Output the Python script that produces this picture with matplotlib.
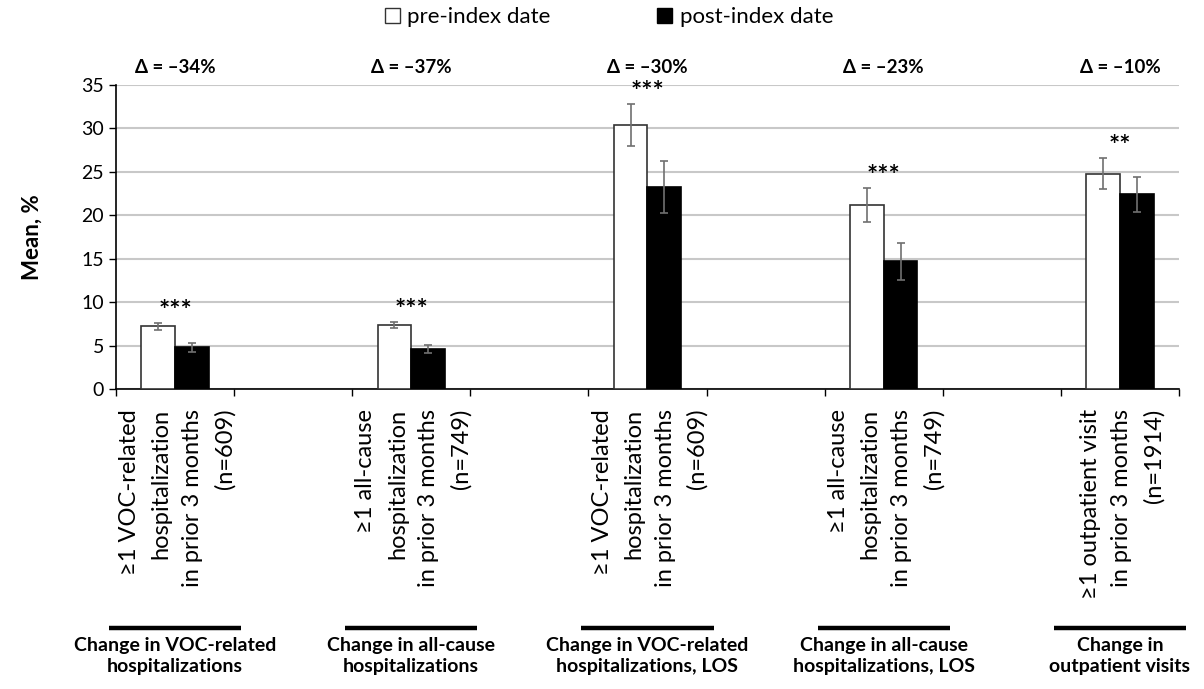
import numpy as np
import matplotlib
matplotlib.use("Agg")
import matplotlib.pyplot as plt
from matplotlib.patches import Patch
import matplotlib.transforms as mtransforms

plt.rcParams["font.family"] = ["Lato", "DejaVu Sans"]

# data
measures = [
    "≥1 VOC-related\nhospitalization\nin prior 3 months\n(n=609)",
    "≥1 all-cause\nhospitalization\nin prior 3 months\n(n=749)",
    "≥1 VOC-related\nhospitalization\nin prior 3 months\n(n=609)",
    "≥1 all-cause\nhospitalization\nin prior 3 months\n(n=749)",
    "≥1 outpatient visit\nin prior 3 months\n(n=1914)",
]
groups = [
    "Change in VOC-related\nhospitalizations",
    "Change in all-cause\nhospitalizations",
    "Change in VOC-related\nhospitalizations, LOS",
    "Change in all-cause\nhospitalizations, LOS",
    "Change in\noutpatient visits",
]
pre = [7.2, 7.4, 30.4, 21.2, 24.8]
post = [4.8, 4.6, 23.3, 14.7, 22.4]
pre_err = [0.4, 0.35, 2.45, 2.0, 1.75]
post_err = [0.55, 0.5, 3.0, 2.1, 2.05]
stars = ["***", "***", "***", "***", "**"]
deltas = ["Δ = –34%", "Δ = –37%", "Δ = –30%", "Δ = –23%", "Δ = –10%"]

fig = plt.figure(figsize=(12.04, 6.89), dpi=100)
ax = fig.add_axes([0.0963, 0.4354, 0.9827 - 0.0963 - 0.0035, 0.8766 - 0.4354])

x = np.arange(len(pre)) * 2
w = 0.285
ekw = dict(ecolor="#707070", elinewidth=1.2, capsize=3, capthick=1.2)
ax.bar(x - w / 2, pre, w, yerr=pre_err, color="white", edgecolor="#333333",
       linewidth=1.2, error_kw=ekw, zorder=3)
ax.bar(x + w / 2, post, w, yerr=post_err, color="black", edgecolor="black",
       linewidth=1.2, error_kw=ekw, zorder=3)

for xi, p, e, s in zip(x, pre, pre_err, stars):
    ax.annotate(s, (xi, p + e), xytext=(0, 0), textcoords="offset points",
                ha="center", va="bottom", fontsize=19, fontweight="bold")

ax.set_xlim(-0.5, 8.5)
ax.set_ylim(0, 35)
ax.set_yticks(range(0, 36, 5))
ax.tick_params(axis="y", labelsize=14, length=5, width=1, direction="out")
ax.set_xticks(np.arange(-0.5, 9, 1))
ax.set_xticklabels([])
ax.tick_params(axis="x", length=5, width=1, direction="out")
ax.yaxis.grid(True, color="#c8c8c8", linewidth=1.5, zorder=0)
ax.set_axisbelow(True)
for side in ["top", "right"]:
    ax.spines[side].set_visible(False)
for side in ["left", "bottom"]:
    ax.spines[side].set_linewidth(1.2)
ax.set_ylabel("Mean, %", fontsize=16, fontweight="bold", labelpad=28)

trans = mtransforms.blended_transform_factory(ax.transData, ax.transAxes)
for xi, m, g, d in zip(x, measures, groups, deltas):
    ax.text(xi, 1.056, d, transform=trans, ha="center", va="center",
            fontsize=13.5, fontweight="bold")
    ax.text(xi + 0.02, -0.065, m, transform=trans, rotation=90, ha="center",
            va="top", multialignment="right", fontsize=17, linespacing=1.62)
    ax.plot([xi - 0.56, xi + 0.56], [-0.786, -0.786], transform=trans,
            color="black", linewidth=3.2, clip_on=False, solid_capstyle="butt")
    ax.text(xi, -0.815, g, transform=trans, ha="center", va="top",
            fontsize=14, fontweight="bold", linespacing=1.3)

handles = [Patch(facecolor="white", edgecolor="#333333", label="pre-index date"),
           Patch(facecolor="black", edgecolor="black", label="post-index date")]
fig.legend(handles=handles, loc="center", bbox_to_anchor=(0.506, 0.975), ncol=2,
           frameon=False, fontsize=16, handlelength=0.65, handleheight=0.65,
           handletextpad=0.35, columnspacing=4.8)

fig.savefig("out.png", dpi=100)
